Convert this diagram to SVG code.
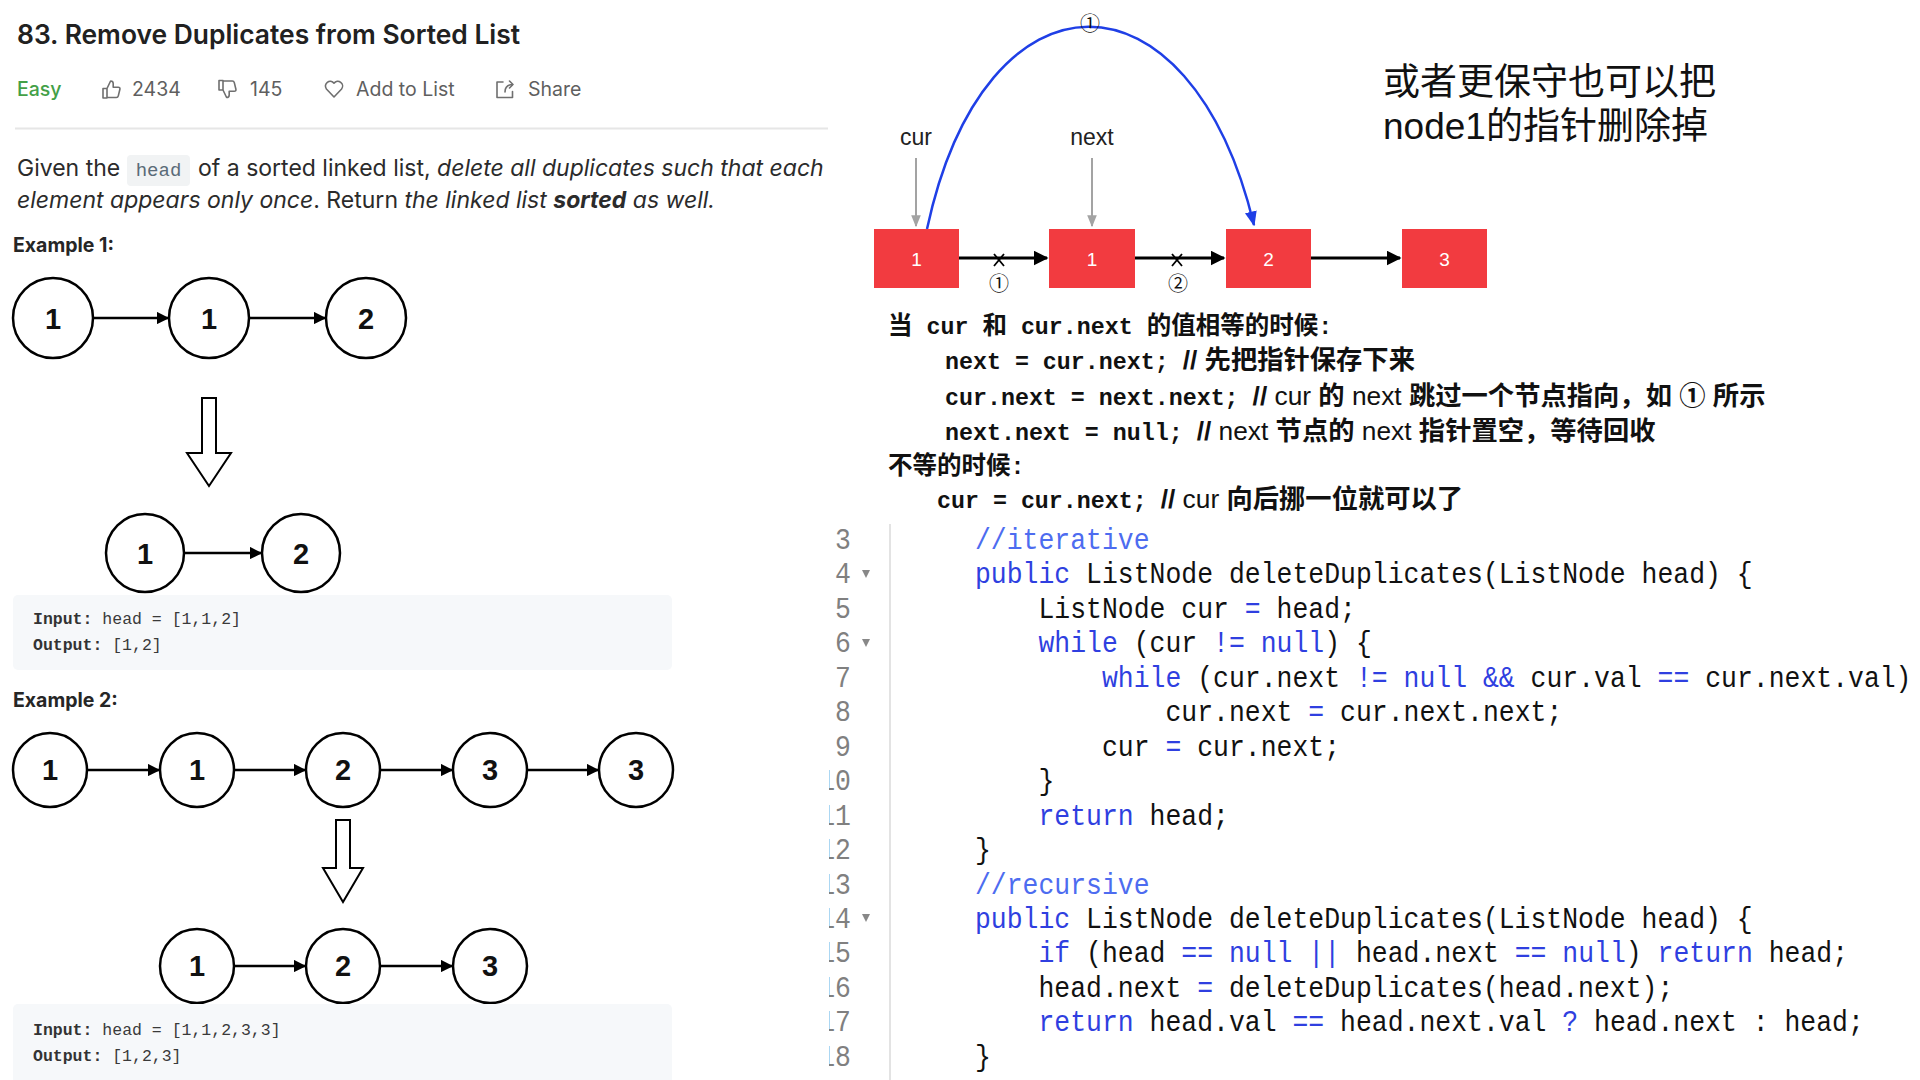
<svg xmlns="http://www.w3.org/2000/svg" width="1920" height="1080" viewBox="0 0 1920 1080">
<style>
.ui{font-family:Inter,"Liberation Sans","Noto Sans CJK SC",sans-serif}
.title{font-size:26.4px;font-weight:600;fill:#212121}
.meta{font-size:19.5px;fill:#5f5f5f}
.body{font-size:23px;fill:#2b2b2b}
.it{font-style:italic}
.b{font-weight:700}
.ex{font-size:19.5px;font-weight:700;fill:#262626}
.mono{font-family:"Liberation Mono","DejaVu Sans Mono",monospace}
.io{font-size:16.5px;fill:#3a3a3a}
.node ellipse{fill:#fff;stroke:#000;stroke-width:2.5}
.node text{font-family:"Liberation Sans",Arial,sans-serif;font-weight:700;font-size:29px;text-anchor:middle;fill:#111}
.edge{stroke:#000;stroke-width:2.5;fill:none}
.hollow{fill:#fff;stroke:#000;stroke-width:2}
.icon{fill:none;stroke:#6f6f6f;stroke-width:1.6;stroke-linejoin:round;stroke-linecap:round}
.rbox rect{fill:#f23b40}
.rbox text{font-family:"Liberation Sans",Arial,sans-serif;font-size:19px;fill:#fff;text-anchor:middle}
.lbl{font-family:"Liberation Sans",Arial,sans-serif;font-size:23px;fill:#222;text-anchor:middle}
.circ{font-family:"Noto Sans CJK SC","DejaVu Sans",sans-serif;font-size:20px;fill:#111;text-anchor:middle}
.cn{font-family:"Liberation Sans","Noto Sans CJK SC",sans-serif;font-size:37px;fill:#111}
.ex2{font-family:"Liberation Mono","Noto Sans CJK SC",monospace;font-weight:700;font-size:23.3px;fill:#111}
.ex2 .h{font-family:"Noto Sans CJK SC",sans-serif;font-size:24.5px}
.ex2 .s{font-family:"Liberation Sans","Noto Sans CJK SC",sans-serif;font-size:26.3px}
.ex2 .r{font-weight:400}
.code{font-family:"Liberation Mono","DejaVu Sans Mono",monospace;font-size:26.45px;fill:#111}
.k{fill:#2f3fe0}
.cm{fill:#4d6cf0}
.ln{fill:#808080;text-anchor:end}
</style>
<defs>
<marker id="ah" viewBox="0 0 10 10" refX="9" refY="5" markerWidth="5" markerHeight="5" orient="auto" markerUnits="strokeWidth"><path d="M0,0 L10,5 L0,10 z" fill="#000"/></marker>
<marker id="ahg" viewBox="0 0 10 10" refX="9" refY="5" markerWidth="6" markerHeight="7" orient="auto" markerUnits="strokeWidth"><path d="M0,1 L10,5 L0,9 z" fill="#a3a3a3"/></marker>
<marker id="ahb" viewBox="0 0 10 10" refX="9" refY="5" markerWidth="6" markerHeight="6" orient="auto" markerUnits="strokeWidth"><path d="M0,1 L10,5 L0,9 z" fill="#1f3fe6"/></marker>
<clipPath id="lnclip"><rect x="829" y="0" width="200" height="1100"/></clipPath>
</defs>
<rect width="1920" height="1080" fill="#fff"/>

<!-- header -->
<g id="header" class="ui">
<text class="title" x="17" y="44">83. Remove Duplicates from Sorted List</text>
<text class="meta" x="17" y="96" style="fill:#43a047;font-weight:500">Easy</text>
<path class="icon" d="M103 88.5 h4 v9.5 h-4 z M107 88.5 l3.6 -7.5 q2.6 0 2.6 2.6 v3.6 h5 q2.1 0 1.7 2.1 l-1.6 6.6 q-0.4 1.6 -2 1.6 h-9.3"/>
<text class="meta" x="132" y="96">2434</text>
<path class="icon" d="M219 80.5 h4 v9.5 h-4 z M223 90 l3.6 7.5 q2.6 0 2.6 -2.6 v-3.6 h5 q2.1 0 1.7 -2.1 l-1.6 -6.6 q-0.4 -1.6 -2 -1.6 h-9.3"/>
<text class="meta" x="250" y="96">145</text>
<path class="icon" d="M334 97 L326.4 89 A4.4 4.4 0 0 1 334 83.2 A4.4 4.4 0 0 1 341.6 89 Z"/>
<text class="meta" x="356" y="96">Add to List</text>
<path class="icon" d="M503 82 h-6 v15.5 h15.5 v-6 M505 92 q0 -7.5 8 -7.5 M509.5 81 l3.5 3.5 l-3.5 3.5"/>
<text class="meta" x="528" y="96">Share</text>
<line x1="15" y1="128.5" x2="828" y2="128.5" stroke="#e6e6e6" stroke-width="2"/>
</g>

<g id="description" class="ui">
<text class="body" x="17" y="176">Given the</text>
<rect x="127" y="155" width="63" height="31" rx="4" fill="#f1f3f4"/>
<text class="mono" x="158.5" y="176" font-size="19" fill="#5a6b78" text-anchor="middle">head</text>
<text class="body" x="198" y="176">of a sorted linked list, <tspan class="it">delete all duplicates such that each</tspan></text>
<text class="body" x="17" y="208"><tspan class="it">element appears only once</tspan>. Return <tspan class="it">the linked list </tspan><tspan class="it b">sorted</tspan><tspan class="it"> as well.</tspan></text>
</g>

<!-- Example 1 -->
<text class="ui ex" x="13" y="252">Example 1:</text>
<g id="ex1-connectors">
<line class="edge" x1="93" y1="318" x2="168" y2="318" marker-end="url(#ah)"/>
<line class="edge" x1="249" y1="318" x2="325" y2="318" marker-end="url(#ah)"/>
<line class="edge" x1="184" y1="553" x2="261" y2="553" marker-end="url(#ah)"/>
</g>
<g id="ex1-n1" class="node"><ellipse cx="53" cy="318" rx="40" ry="40"/><text x="53" y="328.5">1</text></g>
<g id="ex1-n2" class="node"><ellipse cx="209" cy="318" rx="40" ry="40"/><text x="209" y="328.5">1</text></g>
<g id="ex1-n3" class="node"><ellipse cx="366" cy="318" rx="40" ry="40"/><text x="366" y="328.5">2</text></g>
<polygon id="ex1-down" class="hollow" points="202,398 216,398 216,453 231,453 209,486 187,453 202,453"/>
<g id="ex1-r1" class="node"><ellipse cx="145" cy="553" rx="39" ry="39"/><text x="145" y="563.5">1</text></g>
<g id="ex1-r2" class="node"><ellipse cx="301" cy="553" rx="39" ry="39"/><text x="301" y="563.5">2</text></g>
<g id="ex1-io">
<rect x="13" y="595" width="659" height="75" rx="5" fill="#f6f8fa"/>
<text class="mono io" x="33" y="624"><tspan font-weight="700" fill="#333">Input:</tspan> head = [1,1,2]</text>
<text class="mono io" x="33" y="650"><tspan font-weight="700" fill="#333">Output:</tspan> [1,2]</text>
</g>

<!-- Example 2 -->
<text class="ui ex" x="13" y="707">Example 2:</text>
<g id="ex2-connectors">
<line class="edge" x1="87" y1="770" x2="159" y2="770" marker-end="url(#ah)"/>
<line class="edge" x1="234" y1="770" x2="305" y2="770" marker-end="url(#ah)"/>
<line class="edge" x1="380" y1="770" x2="452" y2="770" marker-end="url(#ah)"/>
<line class="edge" x1="527" y1="770" x2="598" y2="770" marker-end="url(#ah)"/>
<line class="edge" x1="234" y1="966" x2="305" y2="966" marker-end="url(#ah)"/>
<line class="edge" x1="380" y1="966" x2="452" y2="966" marker-end="url(#ah)"/>
</g>
<g id="ex2-n1" class="node"><ellipse cx="50" cy="770" rx="37" ry="37"/><text x="50" y="780">1</text></g>
<g id="ex2-n2" class="node"><ellipse cx="197" cy="770" rx="37" ry="37"/><text x="197" y="780">1</text></g>
<g id="ex2-n3" class="node"><ellipse cx="343" cy="770" rx="37" ry="37"/><text x="343" y="780">2</text></g>
<g id="ex2-n4" class="node"><ellipse cx="490" cy="770" rx="37" ry="37"/><text x="490" y="780">3</text></g>
<g id="ex2-n5" class="node"><ellipse cx="636" cy="770" rx="37" ry="37"/><text x="636" y="780">3</text></g>
<polygon id="ex2-down" class="hollow" points="336,820 350,820 350,868 363,868 343,902 323,868 336,868"/>
<g id="ex2-r1" class="node"><ellipse cx="197" cy="966" rx="37" ry="37"/><text x="197" y="976">1</text></g>
<g id="ex2-r2" class="node"><ellipse cx="343" cy="966" rx="37" ry="37"/><text x="343" y="976">2</text></g>
<g id="ex2-r3" class="node"><ellipse cx="490" cy="966" rx="37" ry="37"/><text x="490" y="976">3</text></g>
<g id="ex2-io">
<rect x="13" y="1004" width="659" height="90" rx="5" fill="#f6f8fa"/>
<text class="mono io" x="33" y="1035"><tspan font-weight="700" fill="#333">Input:</tspan> head = [1,1,2,3,3]</text>
<text class="mono io" x="33" y="1061"><tspan font-weight="700" fill="#333">Output:</tspan> [1,2,3]</text>
</g>

<!-- Right: linked list sketch -->
<g id="rl-connectors">
<line x1="959" y1="258" x2="1047" y2="258" stroke="#000" stroke-width="3" marker-end="url(#ah)"/>
<line x1="1135" y1="258" x2="1224" y2="258" stroke="#000" stroke-width="3" marker-end="url(#ah)"/>
<line x1="1311" y1="258" x2="1400" y2="258" stroke="#000" stroke-width="3" marker-end="url(#ah)"/>
<path d="M994 254 L1004 266 M1004 254 L994 266" stroke="#000" stroke-width="1.8"/>
<path d="M1172 254 L1182 266 M1182 254 L1172 266" stroke="#000" stroke-width="1.8"/>
<line x1="916" y1="158" x2="916" y2="226" stroke="#a3a3a3" stroke-width="2" marker-end="url(#ahg)"/>
<line x1="1092" y1="158" x2="1092" y2="226" stroke="#a3a3a3" stroke-width="2" marker-end="url(#ahg)"/>
<path d="M927 229 C985 -40 1190 -40 1254 225" fill="none" stroke="#1f3fe6" stroke-width="2.5" marker-end="url(#ahb)"/>
</g>
<g id="rb1" class="rbox"><rect x="874" y="229" width="85" height="59"/><text x="916.5" y="265.5">1</text></g>
<g id="rb2" class="rbox"><rect x="1049" y="229" width="86" height="59"/><text x="1092" y="265.5">1</text></g>
<g id="rb3" class="rbox"><rect x="1226" y="229" width="85" height="59"/><text x="1268.5" y="265.5">2</text></g>
<g id="rb4" class="rbox"><rect x="1402" y="229" width="85" height="59"/><text x="1444.5" y="265.5">3</text></g>
<text class="lbl" x="916" y="145">cur</text>
<text class="lbl" x="1092" y="145">next</text>
<text class="circ" x="1090" y="31">①</text>
<text class="circ" x="999" y="291">①</text>
<text class="circ" x="1178" y="291">②</text>

<g id="note">
<text class="cn" x="1383" y="95">或者更保守也可以把</text>
<text class="cn" x="1383" y="139">node1的指针删除掉</text>
</g>

<g id="explain" class="ex2">
<text x="888" y="334"><tspan class="h">当</tspan> cur <tspan class="h">和</tspan> cur.next <tspan class="h">的值相等的时候</tspan>:</text>
<text x="945" y="369">next = cur.next; <tspan class="s">//  先把指针保存下来</tspan></text>
<text x="945" y="405">cur.next = next.next; <tspan class="s">// <tspan class="r">cur</tspan> 的 <tspan class="r">next</tspan> 跳过一个节点指向，如 ① 所示</tspan></text>
<text x="945" y="440">next.next = null; <tspan class="s">//  <tspan class="r">next</tspan> 节点的 <tspan class="r">next</tspan> 指针置空，等待回收</tspan></text>
<text x="888" y="474"><tspan class="h">不等的时候</tspan>:</text>
<text x="937" y="508">cur = cur.next; <tspan class="s">// <tspan class="r">cur</tspan> 向后挪一位就可以了</tspan></text>
</g>

<!-- Code editor -->
<line x1="890" y1="524" x2="890" y2="1080" stroke="#e3e3e3" stroke-width="2"/>
<g fill="#888">
<polygon points="862,570 870,570 866,578"/>
<polygon points="862,639 870,639 866,647"/>
<polygon points="862,914 870,914 866,922"/>
</g>
<g id="code" class="code" transform="scale(1,1.15)">
<g clip-path="url(#lnclip)">
<text class="ln" x="851" y="477.4">3</text>
<text class="ln" x="851" y="507.4">4</text>
<text class="ln" x="851" y="537.3">5</text>
<text class="ln" x="851" y="567.3">6</text>
<text class="ln" x="851" y="597.2">7</text>
<text class="ln" x="851" y="627.2">8</text>
<text class="ln" x="851" y="657.2">9</text>
<text class="ln" x="851" y="687.1">10</text>
<text class="ln" x="851" y="717.1">11</text>
<text class="ln" x="851" y="747.0">12</text>
<text class="ln" x="851" y="777.0">13</text>
<text class="ln" x="851" y="807.0">14</text>
<text class="ln" x="851" y="836.9">15</text>
<text class="ln" x="851" y="866.9">16</text>
<text class="ln" x="851" y="896.8">17</text>
<text class="ln" x="851" y="926.8">18</text>
</g>
<text x="975" y="477.4"><tspan class="cm">//iterative</tspan></text>
<text x="975" y="507.4"><tspan class="k">public</tspan> ListNode deleteDuplicates(ListNode head) {</text>
<text x="1038.5" y="537.3">ListNode cur <tspan class="k">=</tspan> head;</text>
<text x="1038.5" y="567.3"><tspan class="k">while</tspan> (cur <tspan class="k">!=</tspan> <tspan class="k">null</tspan>) {</text>
<text x="1102" y="597.2"><tspan class="k">while</tspan> (cur.next <tspan class="k">!=</tspan> <tspan class="k">null</tspan> <tspan class="k">&amp;&amp;</tspan> cur.val <tspan class="k">==</tspan> cur.next.val)</text>
<text x="1165.5" y="627.2">cur.next <tspan class="k">=</tspan> cur.next.next;</text>
<text x="1102" y="657.2">cur <tspan class="k">=</tspan> cur.next;</text>
<text x="1038.5" y="687.1">}</text>
<text x="1038.5" y="717.1"><tspan class="k">return</tspan> head;</text>
<text x="975" y="747.0">}</text>
<text x="975" y="777.0"><tspan class="cm">//recursive</tspan></text>
<text x="975" y="807.0"><tspan class="k">public</tspan> ListNode deleteDuplicates(ListNode head) {</text>
<text x="1038.5" y="836.9"><tspan class="k">if</tspan> (head <tspan class="k">==</tspan> <tspan class="k">null</tspan> <tspan class="k">||</tspan> head.next <tspan class="k">==</tspan> <tspan class="k">null</tspan>) <tspan class="k">return</tspan> head;</text>
<text x="1038.5" y="866.9">head.next <tspan class="k">=</tspan> deleteDuplicates(head.next);</text>
<text x="1038.5" y="896.8"><tspan class="k">return</tspan> head.val <tspan class="k">==</tspan> head.next.val <tspan class="k">?</tspan> head.next : head;</text>
<text x="975" y="926.8">}</text>
</g>
</svg>
